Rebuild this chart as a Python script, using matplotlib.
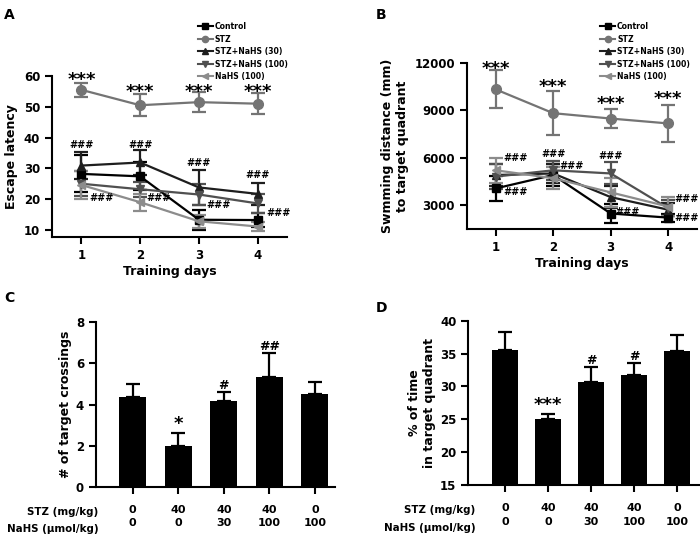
import matplotlib
matplotlib.use("Agg")
import matplotlib.pyplot as plt
from matplotlib.lines import Line2D

plt.rcParams["font.family"] = ["DejaVu Sans"]
plt.rcParams["font.weight"] = "bold"
plt.rcParams["axes.labelweight"] = "bold"

days = [1, 2, 3, 4]
groups = ["Control", "STZ", "STZ+NaHS (30)", "STZ+NaHS (100)", "NaHS (100)"]

# panel A: escape latency (mean, sem)
lat_mean = {
    "Control": [28.2, 27.4, 13.3, 13.2],
    "STZ": [55.5, 50.5, 51.5, 51.0],
    "STZ+NaHS (30)": [30.9, 31.9, 23.8, 21.7],
    "STZ+NaHS (100)": [25.0, 23.2, 21.5, 18.6],
    "NaHS (100)": [24.6, 19.0, 12.8, 11.1],
}
lat_err = {
    "Control": [6.0, 4.5, 3.2, 2.2],
    "STZ": [2.2, 3.5, 3.2, 3.4],
    "STZ+NaHS (30)": [4.5, 4.2, 5.7, 3.5],
    "STZ+NaHS (100)": [4.0, 2.5, 3.5, 3.0],
    "NaHS (100)": [4.5, 2.8, 2.2, 1.5],
}

# panel B: swimming distance to target quadrant (mean, sem)
dist_mean = {
    "Control": [4050, 4900, 2460, 2200],
    "STZ": [10330, 8820, 8480, 8170],
    "STZ+NaHS (30)": [4900, 5000, 3500, 2700],
    "STZ+NaHS (100)": [4800, 5200, 5000, 2800],
    "NaHS (100)": [5200, 4700, 3800, 2900],
}
dist_err = {
    "Control": [800, 700, 600, 250],
    "STZ": [1200, 1400, 580, 1200],
    "STZ+NaHS (30)": [700, 600, 700, 400],
    "STZ+NaHS (100)": [800, 600, 700, 500],
    "NaHS (100)": [800, 700, 900, 600],
}

# panels C and D
stz_dose = ["0", "40", "40", "40", "0"]
nahs_dose = ["0", "0", "30", "100", "100"]
crossings = [4.38, 2.0, 4.19, 5.36, 4.51]
crossings_err = [0.62, 0.6, 0.44, 1.13, 0.59]
pct_time = [35.6, 25.0, 30.7, 31.8, 35.4]
pct_time_err = [2.7, 0.8, 2.2, 1.8, 2.5]
crossings_marks = ["", "*", "#", "##", ""]
pct_time_marks = ["", "***", "#", "#", ""]

styles = {
    "Control": dict(color="#000000", marker="s"),
    "STZ": dict(color="#747474", marker="o"),
    "STZ+NaHS (30)": dict(color="#1e1e1e", marker="^"),
    "STZ+NaHS (100)": dict(color="#505050", marker="v"),
    "NaHS (100)": dict(color="#8c8c8c", marker="<"),
}

fig = plt.figure(figsize=(7.0, 5.34), dpi=100)


def style_axes(ax):
    for s in ["top", "right"]:
        ax.spines[s].set_visible(False)
    for s in ["left", "bottom"]:
        ax.spines[s].set_linewidth(1.5)
    ax.tick_params(width=1.5, length=5, labelsize=8.5)


def line_panel(rect, means, errs, ylim, yticks, ylabel, legend_xy):
    ax = fig.add_axes(rect)
    for g in groups:
        st = styles[g]
        ms = 7 if st["marker"] == "o" else 5.5
        ax.errorbar(days, means[g], yerr=errs[g], color=st["color"],
                    marker=st["marker"], markersize=ms, lw=1.6,
                    elinewidth=1.6, capsize=5, capthick=1.6, label=g)
    ax.set_xlim(0.5, 4.5)
    ax.set_ylim(*ylim)
    ax.set_xticks(days)
    ax.set_yticks(yticks)
    ax.set_xlabel("Training days", fontsize=9, labelpad=2)
    ax.set_ylabel(ylabel, fontsize=9)
    style_axes(ax)
    handles = [Line2D([], [], color=styles[g]["color"], marker=styles[g]["marker"],
                      markersize=4.5, lw=1.5) for g in groups]
    fig.legend(handles, groups, loc="upper left", bbox_to_anchor=legend_xy,
               frameon=False, fontsize=5.6, handlelength=1.9, handletextpad=0.25,
               labelspacing=0.45, borderpad=0)
    return ax


# A
axA = line_panel([0.0743, 0.5562, 0.3357, 0.3015], lat_mean, lat_err,
                 (7.7, 60), [10, 20, 30, 40, 50, 60], "Escape latency",
                 (0.277, 0.966))
for d, y in zip(days, [58.6, 54.8, 54.8, 54.8]):
    axA.text(d, y, "***", ha="center", va="center", fontsize=13)
for d, y in zip(days, [37.6, 37.6, 31.7, 27.8]):
    axA.text(d, y, "###", ha="center", va="center", fontsize=7)
for x, y in [(1.13, 20.5), (2.1, 20.4), (3.13, 18.1), (4.15, 15.5)]:
    axA.text(x, y, "###", ha="left", va="center", fontsize=7)

# B
axB = line_panel([0.667, 0.5712, 0.3287, 0.3108], dist_mean, dist_err,
                 (1480, 12000), [3000, 6000, 9000, 12000],
                 "Swmming distance (mm)\nto target quadrant", (0.852, 0.966))
for d, y in zip(days, [11600, 10500, 9430, 9700]):
    axB.text(d, y, "***", ha="center", va="center", fontsize=13)
for d, y in [(2, 6260), (3, 6090)]:
    axB.text(d, y, "###", ha="center", va="center", fontsize=7)
for x, y in [(1.13, 5990), (1.13, 3800), (2.1, 5480), (3.08, 2570),
             (4.11, 3350), (4.11, 2150)]:
    axB.text(x, y, "###", ha="left", va="center", fontsize=7)


def bar_panel(rect, vals, errs, marks, ylim, yticks, ylabel, xlim, row_x):
    ax = fig.add_axes(rect)
    x = range(len(vals))
    ax.bar(x, vals, width=0.6, color="black", zorder=2)
    ax.errorbar(x, vals, yerr=[[0] * len(vals), errs], fmt="none",
                ecolor="black", elinewidth=1.6, capsize=5, capthick=1.6, zorder=1)
    for i, m in enumerate(marks):
        if m:
            ax.text(i, vals[i] + errs[i], m, ha="center", va="bottom",
                    fontsize=13 if "*" in m else 9)
    ax.set_xlim(*xlim)
    ax.set_ylim(*ylim)
    ax.set_yticks(yticks)
    ax.set_xticks(list(x))
    ax.set_xticklabels([f"{a}\n{b}" for a, b in zip(stz_dose, nahs_dose)],
                       linespacing=1.45)
    ax.set_ylabel(ylabel, fontsize=9, labelpad=3)
    style_axes(ax)
    ax.tick_params(axis="x", labelsize=8, pad=8)
    ax.text(row_x, -0.155, "STZ (mg/kg)", transform=ax.transAxes,
            ha="right", va="center", fontsize=7.4)
    ax.text(row_x, -0.26, "NaHS (µmol/kg)", transform=ax.transAxes,
            ha="right", va="center", fontsize=7.4)
    return ax


# C
axC = bar_panel([0.137, 0.0886, 0.342, 0.3078], crossings, crossings_err,
                crossings_marks, (0, 8), [0, 2, 4, 6, 8],
                "# of target crossings", (-0.81, 4.45), 0.01)
# D
axD = bar_panel([0.669, 0.0918, 0.329, 0.3076], pct_time, pct_time_err,
                pct_time_marks, (15, 40), [15, 20, 25, 30, 35, 40],
                "% of time\nin target quadrant", (-0.85, 4.5), 0.03)

for lbl, x, y in [("A", 0.006, 0.985), ("B", 0.537, 0.985),
                  ("C", 0.006, 0.455), ("D", 0.537, 0.437)]:
    fig.text(x, y, lbl, fontsize=10, ha="left", va="top")

fig.savefig("out.png", dpi=100)
